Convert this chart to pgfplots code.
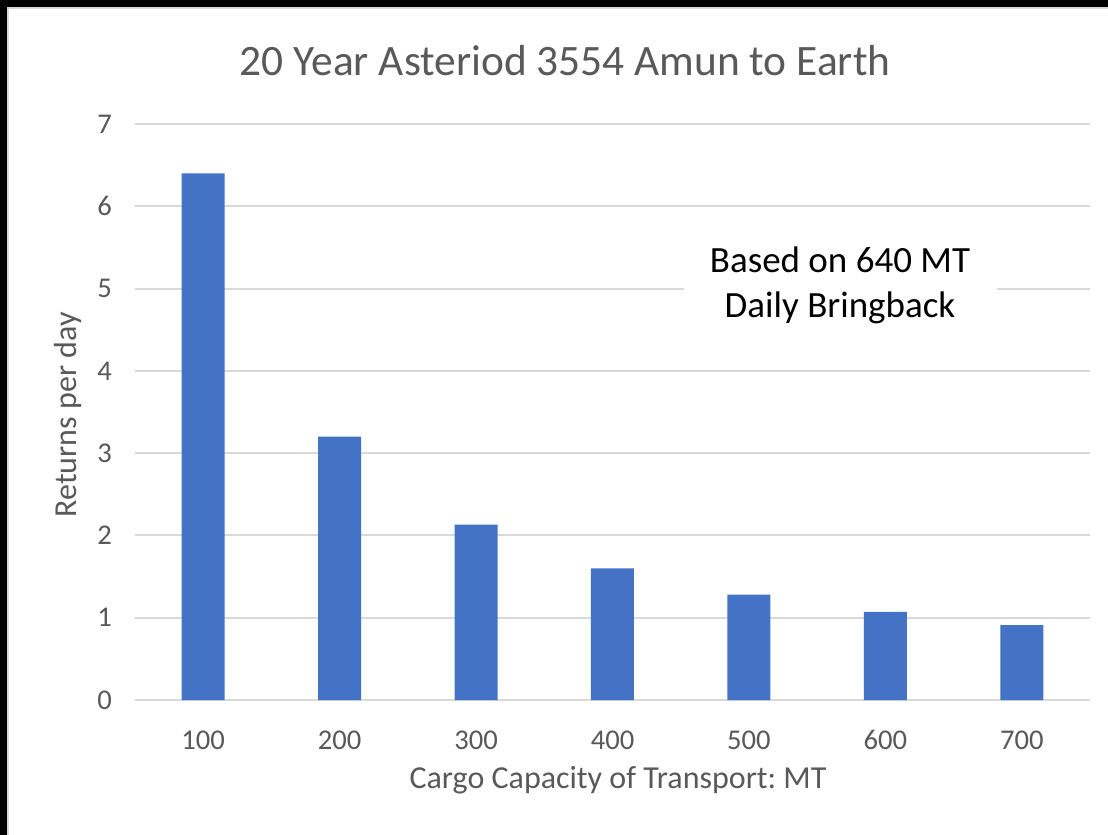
\documentclass[border=0pt]{standalone}
\usepackage{fontspec}
\setmainfont{Carlito}
\usepackage{pgfplots}
\pgfplotsset{compat=1.18}
\definecolor{barblue}{HTML}{4472C4}
\definecolor{gridgray}{HTML}{D9D9D9}
\definecolor{txt}{HTML}{595959}
\newcommand{\px}[2]{({(#1-135)*0.5pt},{(700-#2)*0.5pt})}
\frenchspacing
\begin{document}
\begin{tikzpicture}
\useasboundingbox \px{0}{0} rectangle \px{1108}{835};
\fill[black] \px{0}{0} rectangle \px{1108}{835};
\fill[white] \px{7}{7} rectangle \px{1108}{835};
\draw[gridgray, line width=1pt] \px{8}{835} -- \px{8}{8} -- \px{1108}{8};
\begin{axis}[
  at={(0,0)}, anchor=south west,
  scale only axis, width=477.5pt, height=288pt,
  xmin=-0.5, xmax=6.5, ymin=0, ymax=7,
  ytick={0,1,2,3,4,5,6,7},
  xtick={0,1,2,3,4,5,6},
  xticklabels={100,200,300,400,500,600,700},
  axis line style={draw=none},
  tick style={draw=none},
  major tick length=0pt,
  ymajorgrids,
  major grid style={gridgray, line width=1pt},
  /pgf/number format/assume math mode=true,
  ticklabel style={font=\fontsize{14.3}{17}\selectfont, text=txt},
  yticklabel style={xshift=-8pt},
  xticklabel style={anchor=base, yshift=-24.5pt},
  ybar, bar width=21.5pt,
  clip=false,
]
\addplot[fill=barblue, draw=none] coordinates {(0,6.4) (1,3.2) (2,2.13) (3,1.6) (4,1.28) (5,1.07) (6,0.91)};
\end{axis}
\node[fill=white, align=center, minimum width=156.5pt, minimum height=45pt, inner sep=0pt, font=\fontsize{18.5}{22.5}\selectfont] at \px{840}{285} {Based on 640 MT\\Daily Bringback};
\node[text=txt, font=\fontsize{21.7}{26}\selectfont] at \px{565}{61} {20 Year Asteriod 3554 Amun to Earth};
\node[text=txt, font=\fontsize{16}{19}\selectfont] at \px{618}{780} {Cargo Capacity of Transport: MT};
\node[text=txt, rotate=90, font=\fontsize{16}{19}\selectfont] at \px{68}{415} {Returns per day};
\end{tikzpicture}
\end{document}
